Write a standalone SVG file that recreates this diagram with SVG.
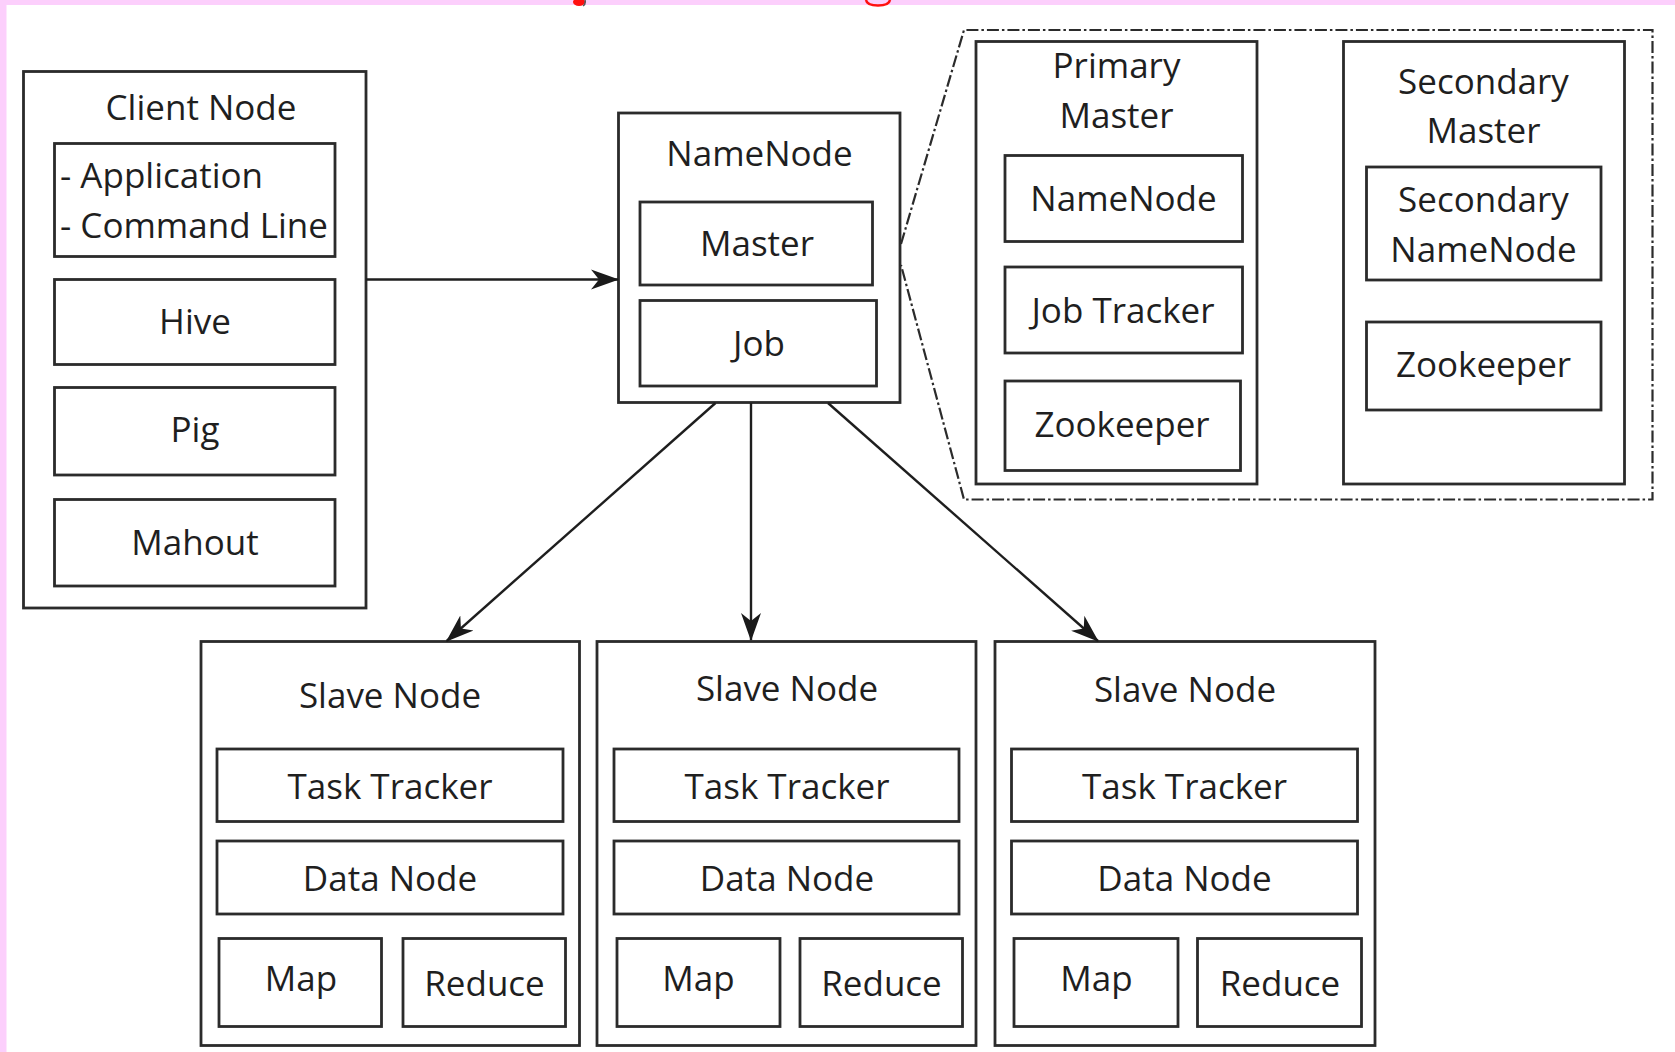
<svg xmlns="http://www.w3.org/2000/svg" width="1675" height="1052" viewBox="0 0 1675 1052">
<defs>
<style>
.box{fill:#fff;stroke:#2b2b2b;stroke-width:2.8}
.t{font-family:"Open Sans","Liberation Sans",sans-serif;font-size:35px;fill:#1f1f1f;text-anchor:middle}
.ts{text-anchor:start}
.conn{stroke:#1e1e1e;stroke-width:2.4;fill:none}
.dash{stroke:#2b2b2b;stroke-width:2.2;fill:none;stroke-dasharray:12 3 2.5 3}
</style>
<marker id="arr" markerUnits="userSpaceOnUse" markerWidth="28" markerHeight="22" viewBox="0 0 28 22" refX="27" refY="11" orient="auto">
<path d="M0,1 L28,11 L0,21 L8,11 z" fill="#1a1a1a"/>
</marker>
</defs>
<rect x="0" y="0" width="1675" height="1052" fill="#fff"/>
<rect x="0" y="0" width="1675" height="5" fill="#fccffc"/>
<rect x="0" y="0" width="6.5" height="1052" fill="#fccffc"/>
<ellipse cx="579" cy="2" rx="6" ry="4" fill="#ff1010"/>
<path d="M585,0 Q586,4 583,6" stroke="#555" stroke-width="1.5" fill="none"/>
<path d="M866,0 Q867,5.5 878,5.5 Q889,5.5 890,0" stroke="#ff1010" stroke-width="2.5" fill="none"/>

<g id="client-node">
<rect class="box" x="23.5" y="71.5" width="342.5" height="536.5"/>
<text class="t" x="201" y="120">Client Node</text>
<rect class="box" x="54.5" y="143.5" width="280.5" height="113"/>
<text class="t ts" x="60" y="188">- Application</text>
<text class="t ts" x="60" y="238">- Command Line</text>
<rect class="box" x="54.5" y="279.5" width="280.5" height="85"/>
<text class="t" x="195" y="334">Hive</text>
<rect class="box" x="54.5" y="387.5" width="280.5" height="87.5"/>
<text class="t" x="195" y="442">Pig</text>
<rect class="box" x="54.5" y="499.5" width="280.5" height="86.5"/>
<text class="t" x="195" y="555">Mahout</text>
</g>

<g id="namenode">
<rect class="box" x="618.5" y="113" width="281.5" height="289.5"/>
<text class="t" x="759.5" y="166">NameNode</text>
<rect class="box" x="640" y="202" width="232.5" height="83"/>
<text class="t" x="757" y="256">Master</text>
<rect class="box" x="640" y="300.5" width="236.5" height="85.5"/>
<text class="t" x="759" y="356">Job</text>
</g>

<g id="master-group">
<path class="dash" d="M901,244 L964,30 L1652.5,30 L1652.5,499.5 L964,499.5 L901,265"/>
</g>

<g id="primary-master">
<rect class="box" x="976" y="41.5" width="281" height="442.5"/>
<text class="t" x="1116.5" y="78">Primary</text>
<text class="t" x="1116.5" y="128">Master</text>
<rect class="box" x="1005" y="155.5" width="237.5" height="86"/>
<text class="t" x="1123.5" y="211">NameNode</text>
<rect class="box" x="1005" y="267" width="237.5" height="86"/>
<text class="t" x="1123" y="323">Job Tracker</text>
<rect class="box" x="1005" y="381" width="235.5" height="89.5"/>
<text class="t" x="1122" y="437">Zookeeper</text>
</g>

<g id="secondary-master">
<rect class="box" x="1343.5" y="41.5" width="281" height="442.5"/>
<text class="t" x="1483.5" y="94">Secondary</text>
<text class="t" x="1483.5" y="143">Master</text>
<rect class="box" x="1366.5" y="167" width="234.5" height="113"/>
<text class="t" x="1483.5" y="212">Secondary</text>
<text class="t" x="1483.5" y="262">NameNode</text>
<rect class="box" x="1366.5" y="322" width="234.5" height="88"/>
<text class="t" x="1483.5" y="377">Zookeeper</text>
</g>

<g id="slave-node-1">
<rect class="box" x="201" y="641.5" width="378.5" height="404"/>
<text class="t" x="390" y="708">Slave Node</text>
<rect class="box" x="217" y="749" width="346" height="72.5"/>
<text class="t" x="390" y="798.5">Task Tracker</text>
<rect class="box" x="217" y="841" width="346" height="73"/>
<text class="t" x="390" y="890.5">Data Node</text>
<rect class="box" x="219" y="938.5" width="162.5" height="88"/>
<text class="t" x="301" y="991">Map</text>
<rect class="box" x="403" y="938.5" width="162.5" height="88"/>
<text class="t" x="484.5" y="995.5">Reduce</text>
</g>

<g id="slave-node-2">
<rect class="box" x="597" y="641.5" width="379" height="404"/>
<text class="t" x="787" y="700.5">Slave Node</text>
<rect class="box" x="614" y="749" width="345" height="72.5"/>
<text class="t" x="787" y="798.5">Task Tracker</text>
<rect class="box" x="614" y="841" width="345" height="73"/>
<text class="t" x="787" y="890.5">Data Node</text>
<rect class="box" x="617" y="938.5" width="163" height="88"/>
<text class="t" x="698.5" y="991">Map</text>
<rect class="box" x="800" y="938.5" width="162.5" height="88"/>
<text class="t" x="881.5" y="995.5">Reduce</text>
</g>

<g id="slave-node-3">
<rect class="box" x="995" y="641.5" width="380" height="404"/>
<text class="t" x="1185" y="702">Slave Node</text>
<rect class="box" x="1011.5" y="749" width="346" height="72.5"/>
<text class="t" x="1184.5" y="798.5">Task Tracker</text>
<rect class="box" x="1011.5" y="841" width="346" height="73"/>
<text class="t" x="1184.5" y="890.5">Data Node</text>
<rect class="box" x="1014" y="938.5" width="164" height="88"/>
<text class="t" x="1096.5" y="991">Map</text>
<rect class="box" x="1197.5" y="938.5" width="164" height="88"/>
<text class="t" x="1280" y="995.5">Reduce</text>
</g>

<g id="connectors">
<line class="conn" x1="366" y1="279.5" x2="618" y2="279.5" marker-end="url(#arr)"/>
<line class="conn" x1="715.5" y1="403" x2="446.7" y2="641" marker-end="url(#arr)"/>
<line class="conn" x1="751" y1="403" x2="751" y2="640" marker-end="url(#arr)"/>
<line class="conn" x1="828" y1="403" x2="1098" y2="641" marker-end="url(#arr)"/>
</g>
</svg>
